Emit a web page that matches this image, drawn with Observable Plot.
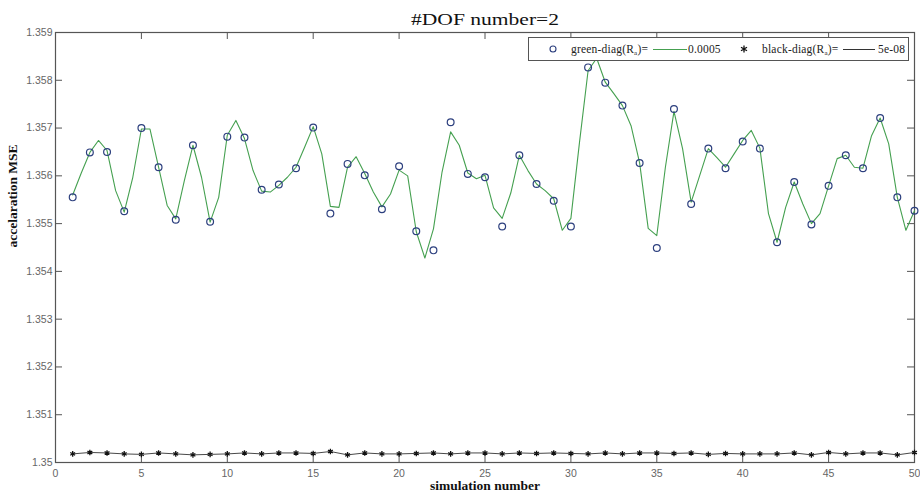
<!DOCTYPE html>
<html>
<head>
<meta charset="utf-8">
<script src="https://cdn.jsdelivr.net/npm/d3@7"></script>
<script src="https://cdn.jsdelivr.net/npm/@observablehq/plot@0.6"></script>
<style>
  html, body { margin: 0; padding: 0; background: #fff; }
  #wrap { position: relative; width: 920px; height: 499px; }
  #legend { position: absolute; left: 528px; top: 37px; width: 379px; height: 22px;
    border: 1px solid #555; background: #fff; font-family: "Liberation Serif", serif; font-size: 11.5px; color: #222; letter-spacing: 0.2px; }
  #legend .it { position: absolute; top: 0; height: 22px; line-height: 22px; white-space: nowrap; }
  #legend sub { font-size: 7px; vertical-align: -2px; }
</style>
</head>
<body>
<div id="wrap"></div>
<script>
// ---- data ----
const simulations = d3.range(1, 51);
const greenMarkers = [
  1.35555, 1.35649, 1.35650, 1.35526, 1.35700, 1.35618, 1.35508, 1.35664, 1.35504, 1.35682,
  1.35680, 1.35571, 1.35582, 1.35616, 1.35701, 1.35521, 1.35625, 1.35601, 1.35530, 1.35620,
  1.35484, 1.35444, 1.35712, 1.35604, 1.35597, 1.35494, 1.35643, 1.35583, 1.35548, 1.35494,
  1.35827, 1.35795, 1.35747, 1.35627, 1.35449, 1.35740, 1.35541, 1.35657, 1.35616, 1.35672,
  1.35657, 1.35461, 1.35587, 1.35498, 1.35579, 1.35643, 1.35616, 1.35721, 1.35555, 1.35527
];
// green line, sampled at half steps 1, 1.5, ..., 50
const greenLineX = d3.range(1, 50.01, 0.5);
const greenLine = [
  1.35560, 1.35606, 1.35649, 1.35674, 1.35653, 1.35569, 1.35524, 1.35597, 1.35698, 1.35698,
  1.35618, 1.35538, 1.35510, 1.35590, 1.35664, 1.35597, 1.35503, 1.35555, 1.35685, 1.35716,
  1.35678, 1.35611, 1.35568, 1.35566, 1.35580, 1.35597, 1.35618, 1.35660, 1.35703, 1.35646,
  1.35536, 1.35534, 1.35618, 1.35640, 1.35605, 1.35566, 1.35535, 1.35562, 1.35612, 1.35600,
  1.35483, 1.35428, 1.35489, 1.35608, 1.35692, 1.35664, 1.35606, 1.35594, 1.35601, 1.35533,
  1.35511, 1.35564, 1.35643, 1.35611, 1.35583, 1.35569, 1.35552, 1.35486, 1.35511, 1.35670,
  1.35820, 1.35846, 1.35796, 1.35772, 1.35747, 1.35705, 1.35627, 1.35490, 1.35475, 1.35618,
  1.35735, 1.35657, 1.35545, 1.35601, 1.35657, 1.35638, 1.35618, 1.35646, 1.35674, 1.35695,
  1.35658, 1.35521, 1.35461, 1.35534, 1.35587, 1.35541, 1.35500, 1.35521, 1.35579, 1.35636,
  1.35643, 1.35618, 1.35616, 1.35684, 1.35721, 1.35667, 1.35555, 1.35486, 1.35527
];
const blackValues = [
  1.35018, 1.35021, 1.35020, 1.35018, 1.35017, 1.35020, 1.35018, 1.35016, 1.35017, 1.35018,
  1.35020, 1.35018, 1.35020, 1.35020, 1.35019, 1.35023, 1.35016, 1.35020, 1.35018, 1.35018,
  1.35019, 1.35020, 1.35018, 1.35020, 1.35020, 1.35018, 1.35020, 1.35019, 1.35020, 1.35019,
  1.35018, 1.35020, 1.35018, 1.35020, 1.35020, 1.35019, 1.35020, 1.35017, 1.35019, 1.35018,
  1.35018, 1.35018, 1.35020, 1.35016, 1.35021, 1.35018, 1.35020, 1.35020, 1.35016, 1.35021
];
const xTicks = [0, 5, 10, 15, 20, 25, 30, 35, 40, 45, 50];
const yTicks = [1.35, 1.351, 1.352, 1.353, 1.354, 1.355, 1.356, 1.357, 1.358, 1.359];
const xDomain = [0, 50];
const yDomain = [1.35, 1.359];
const titleText = "#DOF number=2";
const xLabel = "simulation number";
const yLabel = "accelaration MSE";

const greenPts = simulations.map((s, i) => ({x: s, y: greenMarkers[i]}));
const greenLinePts = greenLineX.map((s, i) => ({x: s, y: greenLine[i]}));
const blackPts = simulations.map((s, i) => ({x: s, y: blackValues[i]}));

const W = 920, H = 499, mL = 55, mR = 6, mT = 32, mB = 37;
const tickPx = 7;
const xTickLen = tickPx * (xDomain[1] - xDomain[0]) / (W - mL - mR);
const yTickLen = tickPx * (yDomain[1] - yDomain[0]) / (H - mT - mB);
const innerX = xTicks.filter(t => t > xDomain[0] && t < xDomain[1]);
const innerY = yTicks.filter(t => t > yDomain[0] && t < yDomain[1]);
const serif = "Liberation Serif, Times New Roman, serif";
const sans = "Liberation Sans, Arial, sans-serif";

const chart = Plot.plot({
  width: W, height: H,
  marginLeft: mL, marginRight: mR, marginTop: mT, marginBottom: mB,
  style: {background: "#fff", overflow: "visible"},
  x: {domain: xDomain, ticks: xTicks},
  y: {domain: yDomain, ticks: yTicks},
  marks: [
    Plot.axisX({ticks: xTicks, tickSize: 0, tickPadding: 7, label: null, tickFormat: d3.format("d"),
      fontFamily: sans, fontSize: 10.5, fill: "#666"}),
    Plot.axisY({ticks: yTicks, tickSize: 0, tickPadding: 3, label: null, tickFormat: d3.format(".3~f"),
      fontFamily: sans, fontSize: 10.5, fill: "#666"}),
    // inward ticks on all four sides
    Plot.ruleY(innerY, {y: d => d, x1: xDomain[0], x2: xDomain[0] + xTickLen, stroke: "#555"}),
    Plot.ruleY(innerY, {y: d => d, x1: xDomain[1] - xTickLen, x2: xDomain[1], stroke: "#555"}),
    Plot.ruleX(innerX, {x: d => d, y1: yDomain[0], y2: yDomain[0] + yTickLen, stroke: "#555"}),
    Plot.ruleX(innerX, {x: d => d, y1: yDomain[1] - yTickLen, y2: yDomain[1], stroke: "#555"}),
    Plot.frame({stroke: "#555", strokeWidth: 1.2}),
    // black series
    Plot.line(blackPts, {x: "x", y: "y", stroke: "#333", strokeWidth: 0.9}),
    Plot.dot(blackPts, {x: "x", y: "y", symbol: "asterisk", r: 2.6, stroke: "#111", strokeWidth: 1.3}),
    // green series
    Plot.line(greenLinePts, {x: "x", y: "y", stroke: "#45a050", strokeWidth: 1.1}),
    Plot.dot(greenPts, {x: "x", y: "y", r: 3.4, stroke: "#2c3f7e", strokeWidth: 1.2, fill: "none"}),
    // title and axis labels
    Plot.text([titleText], {frameAnchor: "top", dy: -19, fontFamily: serif, fontSize: 16, fill: "#111", textAnchor: "middle"}),
    Plot.text([xLabel], {frameAnchor: "bottom", dy: 27, fontFamily: serif, fontSize: 13.5, fontWeight: "bold", fill: "#111"}),
    Plot.text([yLabel], {frameAnchor: "left", dx: -43, rotate: -90, fontFamily: serif, fontSize: 13.5, fontWeight: "bold", fill: "#111"})
  ]
});
// widen the title like the reference (it is drawn horizontally stretched there)
d3.select(chart).selectAll("text").filter(function () { return this.textContent === titleText; })
  .attr("textLength", 148).attr("lengthAdjust", "spacingAndGlyphs");
document.getElementById("wrap").appendChild(chart);

// legend (HTML overlay)
const legend = document.createElement("div");
legend.id = "legend";
legend.innerHTML = `
  <svg class="it" style="left:19px;top:6px;height:10px;width:10px" width="10" height="10"><circle cx="5" cy="5" r="3" fill="none" stroke="#2c3f7e" stroke-width="1.1"/></svg>
  <span class="it" style="left:42px">green-diag(R<sub>a</sub>)=</span>
  <svg class="it" style="left:124px;top:10px;height:3px;width:34px" width="34" height="3"><line x1="0" y1="1.5" x2="34" y2="1.5" stroke="#45a050" stroke-width="1"/></svg>
  <span class="it" style="left:159px">0.0005</span>
  <svg class="it" style="left:211px;top:7px;height:8px;width:8px" width="8" height="8"><path d="M4,0.5V7.5M1,2.2L7,5.8M1,5.8L7,2.2" stroke="#111" stroke-width="1.3"/></svg>
  <span class="it" style="left:233px">black-diag(R<sub>a</sub>)=</span>
  <svg class="it" style="left:314px;top:10px;height:3px;width:32px" width="32" height="3"><line x1="0" y1="1.5" x2="32" y2="1.5" stroke="#333" stroke-width="1"/></svg>
  <span class="it" style="left:349px">5e-08</span>`;
document.getElementById("wrap").appendChild(legend);
</script>
</body>
</html>
